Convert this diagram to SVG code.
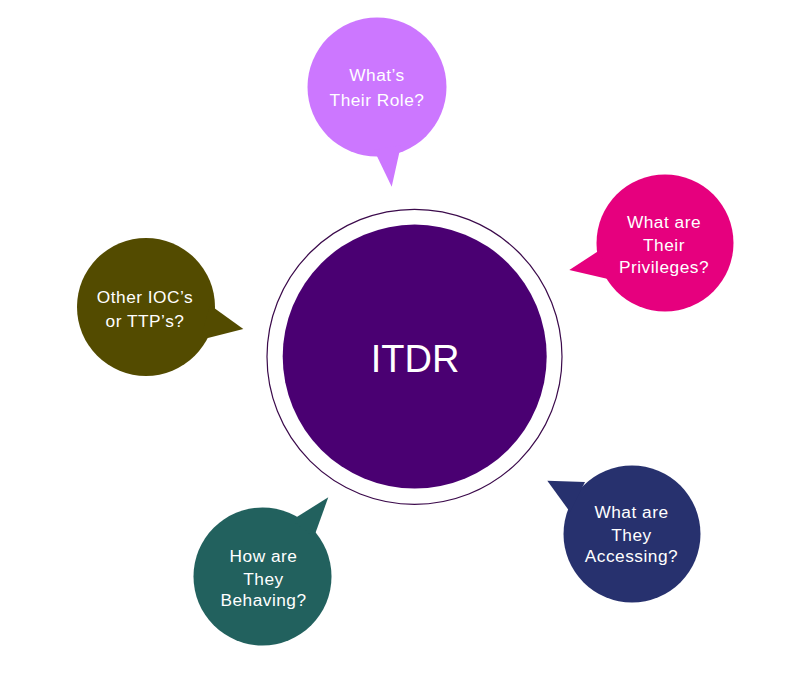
<svg xmlns="http://www.w3.org/2000/svg" width="808" height="675" viewBox="0 0 808 675">
<style>
.lbl{font-family:"Liberation Sans",Arial,sans-serif;font-size:17.3px;fill:#ffffff;text-anchor:middle;letter-spacing:0.5px}
.title{font-family:"Liberation Sans",Arial,sans-serif;font-size:38px;fill:#ffffff;text-anchor:middle}
</style>
<rect width="808" height="675" fill="#ffffff"/>
<g id="center">
<circle cx="414.5" cy="356.8" r="147.5" fill="none" stroke="#3b0a4b" stroke-width="1.2"/>
<circle cx="414.7" cy="356.6" r="132" fill="#4a0072"/>
<text class="title" x="415" y="372">ITDR</text>
</g>
<g id="role">
<circle cx="377" cy="87" r="69.5" fill="#cc77ff"/>
<polygon points="374,150 391.7,186.7 401,145" fill="#cc77ff"/>
<text class="lbl" x="377" y="81">What’s</text>
<text class="lbl" x="377" y="106">Their Role?</text>
</g>
<g id="privileges">
<circle cx="665" cy="243" r="68.5" fill="#e6007e"/>
<polygon points="600,250 569.3,270 608,279" fill="#e6007e"/>
<text class="lbl" x="664" y="228">What are</text>
<text class="lbl" x="664" y="250.5">Their</text>
<text class="lbl" x="664" y="272.5">Privileges?</text>
</g>
<g id="ioc">
<circle cx="146" cy="307" r="69" fill="#534b00"/>
<polygon points="210,305 243.3,329 200,340" fill="#534b00"/>
<text class="lbl" x="145" y="303">Other IOC’s</text>
<text class="lbl" x="145" y="327">or TTP’s?</text>
</g>
<g id="accessing">
<circle cx="632" cy="534" r="68.5" fill="#27316e"/>
<polygon points="585,482 547.3,480.7 570,512" fill="#27316e"/>
<text class="lbl" x="631.5" y="518">What are</text>
<text class="lbl" x="631.5" y="540.5">They</text>
<text class="lbl" x="631.5" y="561.5">Accessing?</text>
</g>
<g id="behaving">
<circle cx="262.5" cy="576.5" r="69" fill="#22615e"/>
<polygon points="292,520 328.3,497.3 314,537" fill="#22615e"/>
<text class="lbl" x="263.5" y="561.5">How are</text>
<text class="lbl" x="263.5" y="584.5">They</text>
<text class="lbl" x="263.5" y="605.5">Behaving?</text>
</g>
<g id="connectors"></g>
</svg>
